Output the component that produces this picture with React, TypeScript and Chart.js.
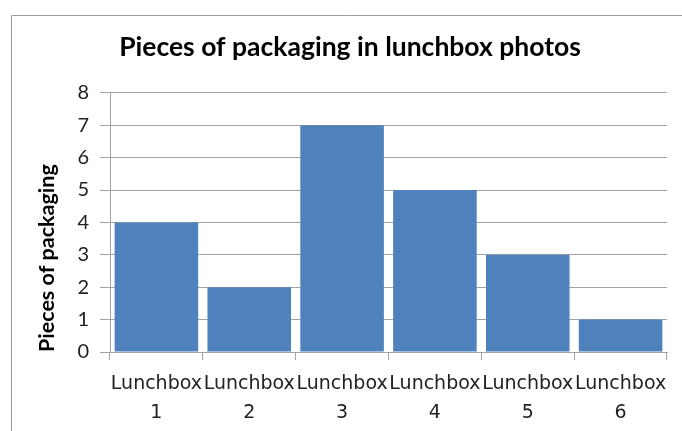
import React, { useEffect, useRef } from "react";
import { Chart, registerables } from "chart.js";

Chart.register(...registerables);

const categories: string[][] = [
  ["Lunchbox", "1"],
  ["Lunchbox", "2"],
  ["Lunchbox", "3"],
  ["Lunchbox", "4"],
  ["Lunchbox", "5"],
  ["Lunchbox", "6"],
];
const pieces: number[] = [4, 2, 7, 5, 3, 1];
const titleText = "Pieces of packaging in lunchbox photos";
const yTitle = "Pieces of packaging";

const FONT = "Lato, 'Open Sans', sans-serif";
const WIDE = "'DejaVu Sans', 'Open Sans', sans-serif";
const GRID = "#a3a3a3";

const framePlugin = {
  id: "frame",
  beforeDraw(chart: any) {
    const ctx = chart.ctx;
    ctx.save();
    ctx.fillStyle = "#ffffff";
    ctx.fillRect(0, 0, chart.width, chart.height);
    ctx.strokeStyle = "#9a9a9a";
    ctx.lineWidth = 1;
    ctx.beginPath();
    ctx.moveTo(11.5, chart.height);
    ctx.lineTo(11.5, 15.5);
    ctx.lineTo(chart.width, 15.5);
    ctx.stroke();
    ctx.restore();
  },
};

export default function App() {
  const ref = useRef<HTMLCanvasElement>(null);
  useEffect(() => {
    if (!ref.current) return;
    const chart = new Chart(ref.current, {
      type: "bar",
      data: {
        labels: categories,
        datasets: [
          {
            label: yTitle,
            data: pieces,
            backgroundColor: "#4f81bd",
            borderWidth: 0,
            barPercentage: 0.9,
            categoryPercentage: 1,
          },
        ],
      },
      options: {
        animation: false,
        responsive: false,
        maintainAspectRatio: false,
        layout: { padding: { left: 33, right: 15, top: 0, bottom: 0 } },
        plugins: {
          legend: { display: false },
          tooltip: { enabled: false },
          title: {
            display: true,
            text: titleText,
            color: "#000000",
            font: { family: FONT, size: 26.5, weight: "bold", lineHeight: 1.2 },
            padding: { top: 32, bottom: 29 },
          },
        },
        scales: {
          x: {
            afterFit(scale: any) {
              scale.height = 79;
            },
            grid: {
              offset: true,
              drawOnChartArea: false,
              drawTicks: true,
              tickLength: 8,
              color: GRID,
            },
            border: { display: true, color: GRID },
            ticks: {
              autoSkip: false,
              maxRotation: 0,
              minRotation: 0,
              padding: 10,
              color: "#222222",
              font: { family: WIDE, size: 19, lineHeight: 1.5 },
            },
          },
          y: {
            min: 0,
            max: 8,
            afterFit(scale: any) {
              scale.width = 77;
            },
            grid: {
              drawTicks: true,
              tickLength: 10,
              color: GRID,
            },
            border: { display: true, color: GRID },
            ticks: {
              stepSize: 1,
              padding: 11,
              color: "#222222",
              font: { family: FONT, size: 20 },
            },
            title: {
              display: true,
              text: yTitle,
              align: "start",
              color: "#000000",
              font: { family: FONT, size: 21.5, weight: "bold", lineHeight: 1.2 },
              padding: { top: 1, bottom: 1 },
            },
          },
        },
      },
      plugins: [framePlugin],
    });
    return () => chart.destroy();
  }, []);
  return (
    <div style={{ position: "fixed", left: 0, top: 0, width: 682, height: 431, background: "#fff" }}>
      <canvas ref={ref} width={682} height={431} style={{ width: 682, height: 431, display: "block" }} />
    </div>
  );
}
